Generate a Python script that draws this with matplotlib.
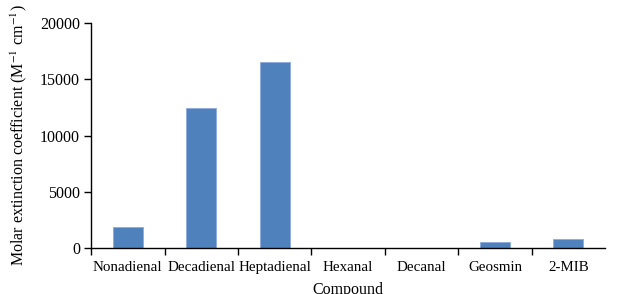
import numpy as np
import matplotlib
matplotlib.use('Agg')
import matplotlib.pyplot as plt

plt.rcParams['font.family'] = ['Liberation Serif', 'DejaVu Serif']
plt.rcParams['mathtext.fontset'] = 'stix'

# data
compounds = ['Nonadienal', 'Decadienal', 'Heptadienal', 'Hexanal', 'Decanal', 'Geosmin', '2-MIB']
coefficients = [1880, 12420, 16550, 0, 0, 560, 770]

fig = plt.figure(figsize=(6.37, 2.94), dpi=100)
ax = fig.add_axes([0.143, 0.156, 0.807, 0.766])

x = np.arange(len(compounds))
ax.bar(x, coefficients, width=0.41, color='#4F81BD', edgecolor='#8EAADB', linewidth=0.6)

ax.set_xlim(-0.5, len(compounds) - 0.5)
ax.set_ylim(0, 20000)
ax.set_yticks([0, 5000, 10000, 15000, 20000])

# labels at centres, tick marks at category boundaries
ax.set_xticks(x)
ax.set_xticklabels(compounds, fontsize=10.8)
ax.tick_params(axis='x', which='major', length=0, pad=9)
ax.set_xticks(np.arange(len(compounds)) - 0.5, minor=True)
ax.tick_params(axis='x', which='minor', length=5, direction='out', width=1)
ax.tick_params(axis='y', length=5, direction='out', width=1, pad=3, labelsize=11.5)

for s in ['top', 'right']:
    ax.spines[s].set_visible(False)
for s in ['left', 'bottom']:
    ax.spines[s].set_linewidth(1)

ax.set_xlabel('Compound', fontsize=11.5, labelpad=6)
ax.set_ylabel('Molar extinction coefficient (M$^{-1}$ cm$^{-1}$)', fontsize=11.5, labelpad=8)

fig.savefig('out.png', dpi=100)
